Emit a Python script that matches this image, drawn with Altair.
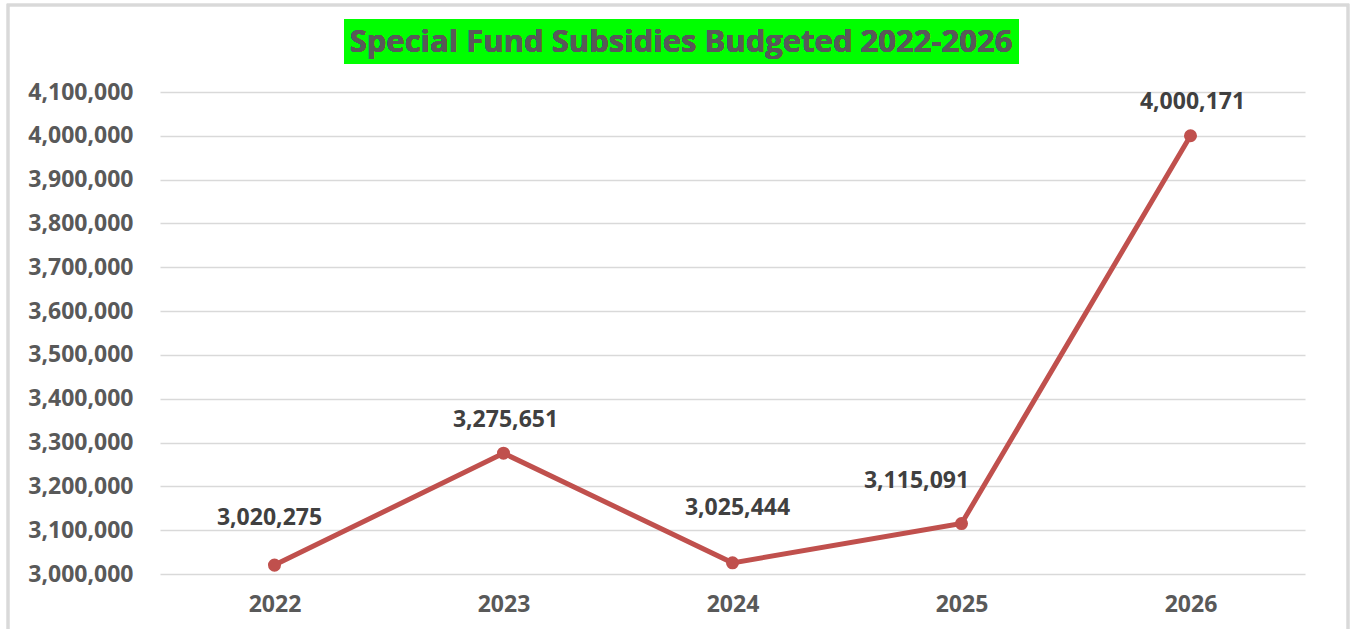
import altair as alt
import pandas as pd

years = ["2022", "2023", "2024", "2025", "2026"]
values = [3020275, 3275651, 3025444, 3115091, 4000171]
y_ticks = [3000000 + 100000 * i for i in range(12)]
title_text = "Special Fund Subsidies Budgeted 2022-2026"

df = pd.DataFrame({"year": years, "value": values})

W, H = 1145, 482
LEFT, TOP = 160, 92
FONT = "Open Sans"
LINE = "#C0504D"

base = alt.Chart(df).encode(
    x=alt.X("year:N", sort=years, scale=alt.Scale(type="point", padding=0.5),
            axis=alt.Axis(title=None, labelFont=FONT, labelFontSize=23, labelFontWeight="bold",
                          labelColor="#595959", labelPadding=19, ticks=False, domain=False,
                          grid=False, labelAngle=0)),
    y=alt.Y("value:Q", scale=alt.Scale(domain=[3000000, 4100000], nice=False, zero=False),
            axis=alt.Axis(title=None, values=y_ticks, format=",d", labelFont=FONT, labelFontSize=23,
                          labelFontWeight="bold", labelColor="#595959", labelPadding=27,
                          ticks=False, domain=False, gridColor="#d9d9d9", gridWidth=1.5)),
)

line = base.mark_line(color=LINE, strokeWidth=5)
pts = base.mark_point(filled=True, color=LINE, size=170, opacity=1)

offsets = {"2022": (-5, -47), "2023": (2, -33), "2024": (5, -55), "2025": (-45, -43), "2026": (2, -34)}
label_layers = []
for yr in years:
    dx, dy = offsets[yr]
    label_layers.append(
        base.transform_filter(alt.datum.year == yr).mark_text(
            font=FONT, fontSize=23, fontWeight="bold", color="#404040", dx=dx, dy=dy,
            baseline="middle", align="center"
        ).encode(text=alt.Text("value:Q", format=",d"))
    )

border = alt.Chart(df).mark_rect(fill=None, stroke="#d9d9d9", strokeWidth=2.5).encode(
    x=alt.value(8 - LEFT), x2=alt.value(1348 - LEFT), y=alt.value(5 - TOP), y2=alt.value(700 - TOP)
)
title_box = alt.Chart(df).mark_rect(fill="#00FF00").encode(
    x=alt.value(344 - LEFT), x2=alt.value(1019 - LEFT), y=alt.value(19 - TOP), y2=alt.value(64 - TOP)
)
title = alt.Chart(df).mark_text(
    text=title_text, font=FONT, fontSize=31, fontWeight="bold", color="#595959",
    align="center", baseline="middle"
).encode(x=alt.value(681 - LEFT), y=alt.value(43 - TOP))

chart = alt.layer(border, title_box, title, line, pts, *label_layers).properties(
    width=W, height=H,
    autosize=alt.AutoSizeParams(type="none"),
    padding={"left": LEFT, "top": TOP, "right": 1351 - LEFT - W, "bottom": 629 - TOP - H},
    background="white",
).configure_view(stroke=None)

chart.save("out.html", embed_options={"renderer": "svg", "actions": False})
